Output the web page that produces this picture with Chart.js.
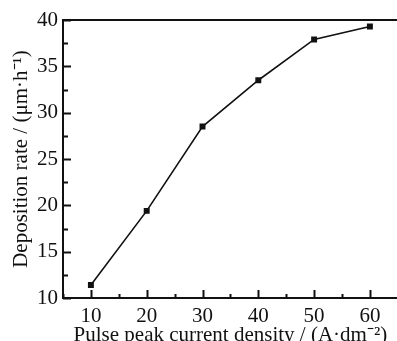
<!DOCTYPE html>
<html>
<head>
<meta charset="utf-8">
<script src="https://cdn.jsdelivr.net/npm/chart.js@4.4.1/dist/chart.umd.min.js"></script>
<style>
  html, body { margin: 0; padding: 0; background: #fff; overflow: hidden; }
  #wrap { width: 397px; height: 341px; overflow: hidden; }
  canvas { display: block; }
</style>
</head>
<body>
<div id="wrap"><canvas id="chart" width="402" height="341"></canvas></div>
<script>
// Pulse peak current density (A·dm-2) vs deposition rate (µm·h-1)
const currentDensity = [10, 20, 30, 40, 50, 60];
const depositionRate = [11.4, 19.4, 28.5, 33.5, 37.9, 39.3];

const xTickValues = [10, 20, 30, 40, 50, 60];
const yTickValues = [10, 15, 20, 25, 30, 35, 40];

const SERIF = "'Liberation Serif', 'Times New Roman', serif";

// inward major/minor tick marks, placed by the scales
const innerTicks = {
    id: 'innerTicks',
    afterDraw(chart) {
        const { ctx, chartArea } = chart;
        const xs = chart.scales.x;
        const ys = chart.scales.y;
        ctx.save();
        ctx.strokeStyle = '#111';
        ctx.lineWidth = 2;
        ctx.beginPath();
        for (let v = xs.min; v <= xs.max; v += 5) {
            const px = Math.round(xs.getPixelForValue(v)) + 0.5;
            const len = v % 10 === 0 ? 8 : 4;
            ctx.moveTo(px, chartArea.bottom);
            ctx.lineTo(px, chartArea.bottom - len);
        }
        for (let v = ys.min; v <= ys.max; v += 2.5) {
            const py = Math.round(ys.getPixelForValue(v)) + 0.5;
            const len = v % 5 === 0 ? 8 : 5;
            ctx.moveTo(chartArea.left, py);
            ctx.lineTo(chartArea.left + len, py);
        }
        ctx.stroke();
        ctx.restore();
    }
};

new Chart(document.getElementById('chart'), {
    type: 'line',
    data: {
        datasets: [{
            data: currentDensity.map((x, i) => ({ x: x, y: depositionRate[i] })),
            borderColor: '#111',
            backgroundColor: '#111',
            borderWidth: 1.6,
            pointStyle: 'rect',
            pointRadius: 4.2,
            pointBorderWidth: 0,
            tension: 0
        }]
    },
    options: {
        responsive: false,
        animation: false,
        layout: { padding: { left: 0, right: 1, top: 0, bottom: 0 } },
        plugins: {
            legend: { display: false },
            tooltip: { enabled: false }
        },
        scales: {
            x: {
                type: 'linear',
                position: 'bottom',
                min: 5,
                max: 65,
                afterFit: s => { s.height = 43; },
                afterBuildTicks: s => { s.ticks = xTickValues.map(v => ({ value: v })); },
                border: { display: true, color: '#111', width: 2 },
                grid: { display: true, drawOnChartArea: false, drawTicks: false },
                ticks: {
                    color: '#111',
                    padding: 6,
                    font: { family: SERIF, size: 21 }
                },
                title: {
                    display: true,
                    text: 'Pulse peak current density / (A·dm⁻²)',
                    color: '#111',
                    padding: { top: 0, bottom: -7 },
                    font: { family: SERIF, size: 21 }
                }
            },
            x2: {
                type: 'linear',
                position: 'top',
                min: 5,
                max: 65,
                afterFit: s => { s.height = 20; },
                border: { display: true, color: '#111', width: 2 },
                grid: { display: true, drawOnChartArea: false, drawTicks: false },
                ticks: { display: false }
            },
            y: {
                type: 'linear',
                min: 10,
                max: 40,
                afterFit: s => { s.width = 63; },
                afterBuildTicks: s => { s.ticks = yTickValues.map(v => ({ value: v })); },
                border: { display: true, color: '#111', width: 2 },
                grid: { display: true, drawOnChartArea: false, drawTicks: false },
                ticks: {
                    color: '#111',
                    padding: 5,
                    font: { family: SERIF, size: 21 }
                },
                title: {
                    display: true,
                    text: 'Deposition rate / (μm·h⁻¹)',
                    color: '#111',
                    padding: { top: 9, bottom: 0 },
                    font: { family: SERIF, size: 21 }
                }
            }
        }
    },
    plugins: [innerTicks]
});
</script>
</body>
</html>
